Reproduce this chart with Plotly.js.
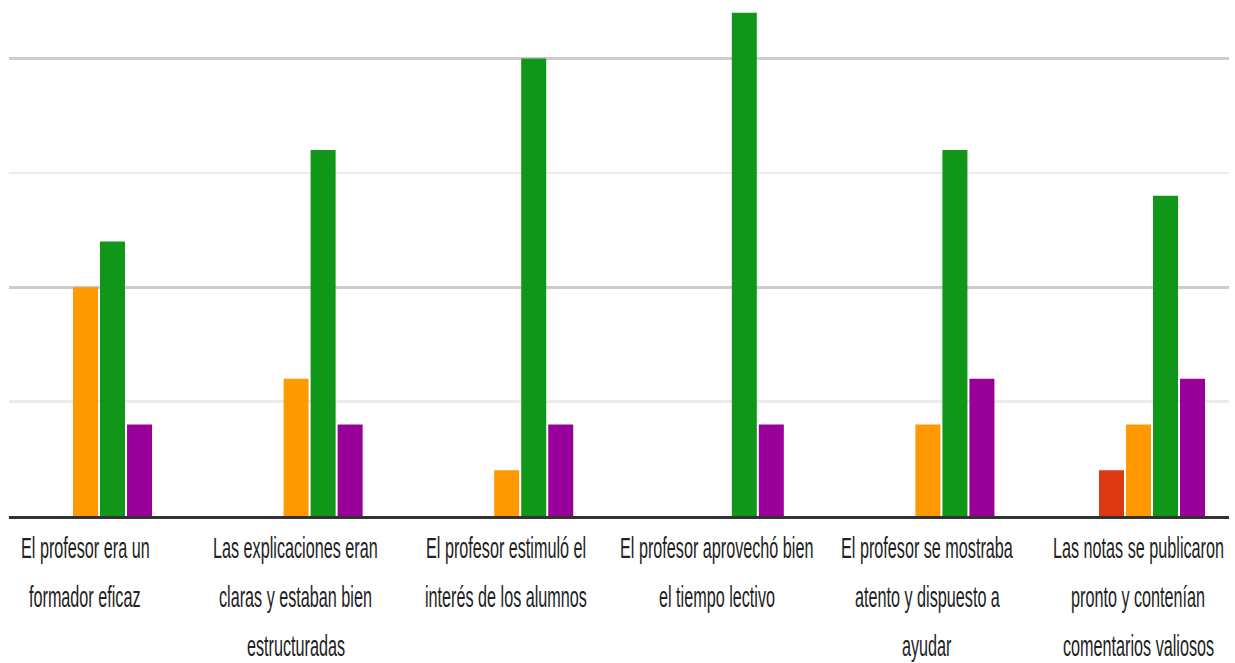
<!DOCTYPE html>
<html>
<head>
<meta charset="utf-8">
<script src="https://cdn.plot.ly/plotly-3.0.1.min.js"></script>
<style>
  html, body { margin: 0; padding: 0; background: #ffffff; }
  #chart { width: 1235px; height: 663px; }
  /* the reference labels are drawn tall and narrow: stretch them vertically */
  #chart text.annotation-text {
    transform: scaleY(1.82);
    transform-box: fill-box;
    transform-origin: center;
  }
</style>
</head>
<body>
<div id="chart"></div>
<script>
// Categories (each label split into its displayed lines)
const categoryLabels = [
  ["El profesor era un", "formador eficaz"],
  ["Las explicaciones eran", "claras y estaban bien", "estructuradas"],
  ["El profesor estimuló el", "interés de los alumnos"],
  ["El profesor aprovechó bien", "el tiempo lectivo"],
  ["El profesor se mostraba", "atento y dispuesto a", "ayudar"],
  ["Las notas se publicaron", "pronto y contenían", "comentarios valiosos"]
];
const categories = categoryLabels.map(l => l.join(" "));

// Series values (response counts)
const seriesRed    = [0, 0, 0, 0, 0, 1];
const seriesOrange = [5, 3, 1, 0, 2, 2];
const seriesGreen  = [6, 8, 10, 11, 8, 7];
const seriesPurple = [2, 2, 2, 2, 3, 3];

const seriesNames  = ["Rojo", "Naranja", "Verde", "Morado"];
const seriesColors = ["#dc3912", "#ff9900", "#109618", "#990099"];
const allSeries = [seriesRed, seriesOrange, seriesGreen, seriesPurple];

const traces = allSeries.map((vals, i) => ({
  type: "bar",
  name: seriesNames[i],
  x: categories,
  y: vals,
  marker: { color: seriesColors[i], line: { width: 0 } },
  hoverinfo: "x+y+name"
}));

const labelFont = "'Liberation Sans', Arial, sans-serif";
const lineStep = 49;
const firstLineShift = -31;

const annotations = [];
categoryLabels.forEach((lines, ci) => {
  lines.forEach((txt, li) => {
    annotations.push({
      x: categories[ci], y: 0, xref: "x", yref: "y",
      text: txt, showarrow: false,
      xanchor: "center", yanchor: "middle",
      xshift: -14,
      yshift: firstLineShift - li * lineStep,
      font: { family: labelFont, size: 16.2, color: "#222222" }
    });
  });
});

const layout = {
  width: 1235, height: 663,
  margin: { l: 9, r: 6, t: 0, b: 146.5, pad: 0 },
  paper_bgcolor: "#ffffff", plot_bgcolor: "#ffffff",
  showlegend: false,
  barmode: "group",
  bargap: 0.487,
  bargroupgap: 0.074,
  xaxis: {
    type: "category",
    range: [-0.4274, 5.3656],
    showticklabels: false,
    ticks: "",
    showgrid: false,
    zeroline: false,
    showline: true, linecolor: "#333333", linewidth: 3
  },
  yaxis: {
    range: [0, 11.28],
    tickvals: [0, 5, 10],
    showticklabels: false,
    ticks: "",
    showgrid: true, gridcolor: "#cccccc", gridwidth: 2.5,
    zeroline: false,
    showline: false,
    minor: { tickvals: [2.5, 7.5], showgrid: true, gridcolor: "#ebebeb", gridwidth: 2.5, ticks: "" }
  },
  annotations: annotations
};

Plotly.newPlot("chart", traces, layout, { displayModeBar: false, staticPlot: true });
</script>
</body>
</html>
